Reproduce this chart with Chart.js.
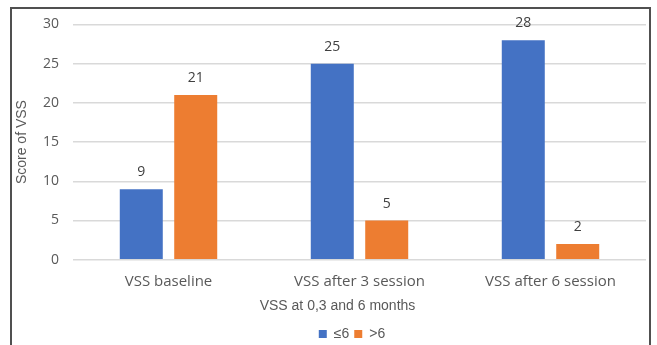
<!DOCTYPE html>
<html>
<head>
<meta charset="utf-8">
<script src="https://cdn.jsdelivr.net/npm/chart.js@4"></script>
<style>
  html, body { margin: 0; padding: 0; background: #fff; }
  #wrap { position: relative; width: 657px; height: 345px; overflow: hidden; }
  #frame { position: absolute; left: 10px; top: 7px; width: 641px; height: 400px; border: 2px solid #505050; box-sizing: border-box; }
  canvas { position: absolute; left: 0; top: 0; }
</style>
</head>
<body>
<div id="wrap">
  <div id="frame"></div>
  <canvas id="c" width="657" height="345"></canvas>
</div>
<script>
const categories = ["VSS baseline", "VSS after 3 session", "VSS after 6 session"];
const seriesNames = ["\u22646", ">6"];
const lowScores = [9, 25, 28];
const highScores = [21, 5, 2];
const yTicks = [0, 5, 10, 15, 20, 25, 30];
const seriesColors = ["#4472C4", "#ED7D31"];

const SANS = "'Open Sans', 'Liberation Sans', sans-serif";
const ARIAL = "'Liberation Sans', Arial, sans-serif";

const valueLabels = {
  id: "valueLabels",
  afterDatasetsDraw(chart) {
    const ctx = chart.ctx;
    ctx.save();
    ctx.font = "14px " + SANS;
    ctx.fillStyle = "#404040";
    ctx.textAlign = "center";
    ctx.textBaseline = "alphabetic";
    chart.data.datasets.forEach((ds, i) => {
      chart.getDatasetMeta(i).data.forEach((bar, j) => {
        ctx.fillText(String(ds.data[j]), bar.x, bar.y - 13);
      });
    });
    ctx.restore();
  }
};

const shiftBoxes = {
  id: "shiftBoxes",
  afterLayout(chart) {
    const lg = chart.legend;
    if (lg) { lg.left += 23; lg.right += 23; lg.top += 6; lg.bottom += 6; }
    const s = chart.scales.x;
    const orig = Object.getPrototypeOf(s).drawTitle;
    s.drawTitle = function () {
      const l = this.left;
      this.left -= 44;
      orig.call(this);
      this.left = l;
    };
  }
};

new Chart(document.getElementById("c"), {
  type: "bar",
  data: {
    labels: categories,
    datasets: [
      { label: seriesNames[0], data: lowScores, backgroundColor: seriesColors[0] },
      { label: seriesNames[1], data: highScores, backgroundColor: seriesColors[1] }
    ]
  },
  options: {
    responsive: false,
    animation: false,
    devicePixelRatio: 1,
    layout: { padding: { left: 12, right: 11, top: 24.5, bottom: 0 } },
    datasets: { bar: { categoryPercentage: 0.57, barPercentage: 0.79 } },
    scales: {
      x: {
        grid: { display: false },
        border: { display: false },
        ticks: { color: "#595959", font: { size: 15, family: SANS, lineHeight: 1.1 }, padding: 6 },
        title: { display: true, text: "VSS at 0,3 and 6 months", color: "#595959", font: { size: 14, family: ARIAL }, padding: { top: 2, bottom: 1 } }
      },
      y: {
        min: 0, max: 30,
        afterBuildTicks(axis) { axis.ticks = yTicks.map(v => ({ value: v })); },
        afterFit(axis) { axis.width = 61; },
        grid: { color: "#d9d9d9", lineWidth: 1.5, drawTicks: false },
        border: { display: false },
        ticks: { color: "#595959", font: { size: 14, family: SANS }, padding: 14 },
        title: { display: true, text: "Score of VSS", color: "#595959", font: { size: 14, family: ARIAL }, padding: { top: 2, bottom: 0 } }
      }
    },
    plugins: {
      legend: {
        position: "bottom",
        labels: { boxWidth: 8, boxHeight: 8, color: "#595959", font: { size: 14, family: ARIAL }, padding: 5 }
      },
      tooltip: { enabled: false }
    }
  },
  plugins: [valueLabels, shiftBoxes]
});
</script>
</body>
</html>
